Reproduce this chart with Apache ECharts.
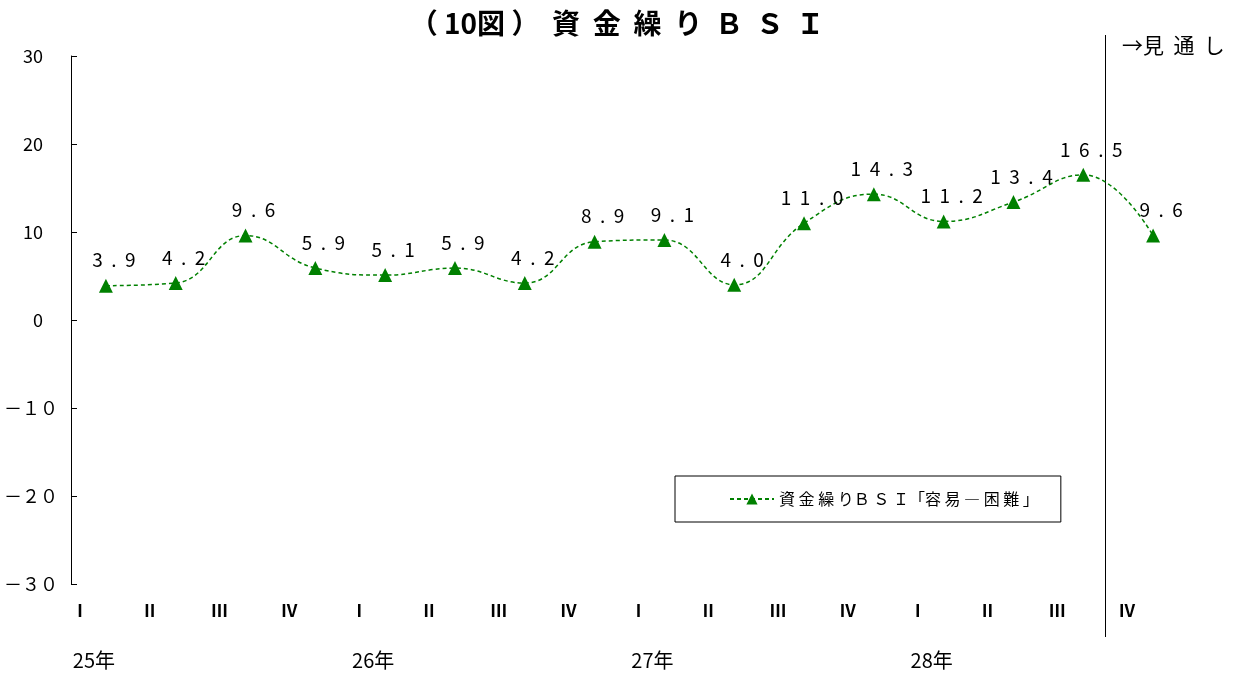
<!DOCTYPE html>
<html>
<head>
<meta charset="utf-8">
<script src="https://cdn.jsdelivr.net/npm/echarts@6/dist/echarts.min.js"></script>
<style>
  html, body { margin: 0; padding: 0; background: #fff; }
  #chart { width: 1234px; height: 673px; }
</style>
</head>
<body>
<div id="chart"></div>
<script>
// 四半期ラベル
let quarters = ["Ⅰ", "Ⅱ", "Ⅲ", "Ⅳ", "Ⅰ", "Ⅱ", "Ⅲ", "Ⅳ", "Ⅰ", "Ⅱ", "Ⅲ", "Ⅳ", "Ⅰ", "Ⅱ", "Ⅲ", "Ⅳ"];
let years = ["25年", "", "", "", "26年", "", "", "", "27年", "", "", "", "28年", "", "", ""];
let bsiValues = [3.9, 4.2, 9.6, 5.9, 5.1, 5.9, 4.2, 8.9, 9.1, 4.0, 11.0, 14.3, 11.2, 13.4, 16.5, 9.6];
let yTicks = { "30": "30", "20": "20", "10": "10", "0": "0", "-10": "－１０", "-20": "－２０", "-30": "－３０" };
let seriesName = "資 金 繰 りＢ Ｓ Ｉ「容 易 ― 困 難 」";

let font = "'Noto Sans CJK JP', sans-serif";
let green = "#008000";

let myChart = echarts.init(document.getElementById("chart"));
let option = {
  animation: false,
  title: {
    text: "（ 10図 ）  資  金  繰  り  Ｂ  Ｓ  Ｉ",
    left: "center",
    top: 4,
    textStyle: { fontFamily: font, fontSize: 28, fontWeight: "bold", color: "#000" }
  },
  legend: {
    left: 675,
    top: 476,
    orient: "horizontal",
    padding: [15, 22, 15, 54],
    borderColor: "#000",
    borderWidth: 1,
    itemWidth: 44,
    itemHeight: 14,
    itemGap: 4,
    textStyle: { fontFamily: font, fontSize: 16, color: "#000" },
    data: [seriesName]
  },
  grid: { left: 71, right: 46, top: 56, bottom: 89, containLabel: false },
  xAxis: [
    {
      type: "category",
      data: quarters,
      boundaryGap: true,
      axisLine: { show: false },
      axisTick: { show: false },
      axisLabel: {
        interval: 0,
        margin: 18,
        padding: [0, 52, 0, 0],
        fontFamily: font,
        fontSize: 17,
        fontWeight: "bold",
        color: "#000"
      }
    },
    {
      type: "category",
      position: "bottom",
      offset: 48,
      data: years,
      boundaryGap: true,
      axisLine: { show: false },
      axisTick: { show: false },
      axisLabel: {
        interval: 0,
        margin: 18,
        padding: [0, 24, 0, 0],
        fontFamily: font,
        fontSize: 20,
        color: "#000"
      }
    }
  ],
  yAxis: {
    type: "value",
    min: -30,
    max: 30,
    interval: 10,
    axisLine: { show: true, lineStyle: { color: "#000", width: 1 } },
    axisTick: { show: true, inside: true, length: 6, lineStyle: { color: "#000" } },
    splitLine: { show: false },
    axisLabel: {
      margin: 13,
      fontFamily: font,
      fontSize: 18,
      color: "#000",
      formatter: function (v) {
        let s = yTicks[String(v)];
        return v >= 0 ? "{p|" + s + "}" : s;
      },
      rich: { p: { padding: [0, 15, 0, 0], fontFamily: font, fontSize: 18, color: "#000" } }
    }
  },
  series: [
    {
      name: seriesName,
      type: "line",
      data: bsiValues,
      smooth: 0.45,
      symbol: "triangle",
      symbolSize: 14,
      itemStyle: { color: green },
      lineStyle: { color: green, width: 1.5, type: [4, 3] },
      label: {
        show: true,
        position: "top",
        distance: 9,
        offset: [8, 0],
        fontFamily: font,
        fontSize: 19,
        color: "#000",
        formatter: function (p) {
          return p.value.toFixed(1).split("").join("  ");
        }
      }
    }
  ]
};
myChart.setOption(option, true);

// 見通し区切り線
let xA = myChart.convertToPixel({ xAxisIndex: 0 }, 14);
let xB = myChart.convertToPixel({ xAxisIndex: 0 }, 15);
let xSep = Math.round(xA + (xB - xA) * 0.31) + 0.5;
myChart.setOption({
  graphic: [
    {
      type: "line",
      shape: { x1: xSep, y1: 35, x2: xSep, y2: 637 },
      style: { stroke: "#000", lineWidth: 1 }
    },
    {
      type: "text",
      left: 1122,
      top: 35,
      style: { text: "→見  通  し", fontFamily: font, fontSize: 21, fill: "#000" }
    }
  ]
});
</script>
</body>
</html>
